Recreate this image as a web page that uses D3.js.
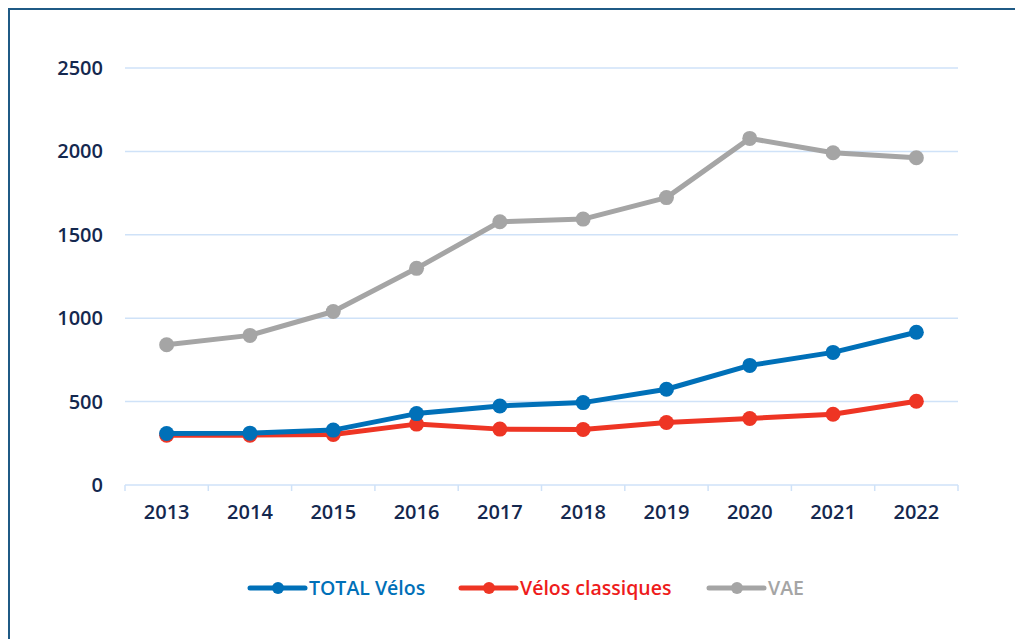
<!DOCTYPE html>
<html>
<head>
<meta charset="utf-8">
<script src="https://cdn.jsdelivr.net/npm/d3@7"></script>
<style>
  body { margin: 0; background: #fff; }
  svg { display: block; font-family: 'Open Sans', sans-serif; }
</style>
</head>
<body>
<div id="chart"></div>
<script>
// Data
const years = ['2013', '2014', '2015', '2016', '2017', '2018', '2019', '2020', '2021', '2022'];
const totalVelos = [309, 311, 329, 428, 474, 494, 574, 717, 795, 916];
const velosClassiques = [299, 299, 303, 365, 335, 333, 375, 399, 424, 502];
const vae = [841, 897, 1040, 1299, 1578, 1594, 1723, 2078, 1992, 1962];
const yTicks = [0, 500, 1000, 1500, 2000, 2500];

const series = [
  { name: 'TOTAL Vélos', values: totalVelos, color: '#0070b8', text: '#0070b8' },
  { name: 'Vélos classiques', values: velosClassiques, color: '#ee3524', text: '#ee1c1c' },
  { name: 'VAE', values: vae, color: '#a5a5a5', text: '#a5a5a5' },
];

// Sizes
const W = 1015;
const H = 639;
const plot = { left: 125, right: 958, top: 68, bottom: 485 };

const svg = d3.select('#chart')
  .append('svg')
  .attr('width', W)
  .attr('height', H);

// frame (only top and left edges show)
svg.append('path')
  .attr('d', `M9,${H + 5}V9H${W + 5}`)
  .attr('fill', 'none')
  .attr('stroke', '#1f5a85')
  .attr('stroke-width', 2);

const x = d3.scaleBand()
  .domain(years)
  .range([plot.left, plot.right]);

const y = d3.scaleLinear()
  .domain([0, 2500])
  .range([plot.bottom, plot.top]);

// gridlines
svg.append('g')
  .selectAll('line')
  .data(yTicks.filter((d) => d > 0))
  .join('line')
  .attr('x1', plot.left)
  .attr('x2', plot.right)
  .attr('y1', (d) => y(d))
  .attr('y2', (d) => y(d))
  .attr('stroke', '#cfe2f8')
  .attr('stroke-width', 1.5);

// y-axis labels
svg.append('g')
  .selectAll('text')
  .data(yTicks)
  .join('text')
  .attr('x', 103)
  .attr('y', (d) => y(d))
  .attr('dy', '0.35em')
  .attr('text-anchor', 'end')
  .attr('fill', '#14284f')
  .attr('font-size', 20)
  .attr('font-weight', 600)
  .text((d) => d);

// x-axis
const xAxis = svg.append('g')
  .attr('transform', `translate(0,${plot.bottom})`)
  .call(d3.axisBottom(x).tickSize(0).tickPadding(20));
xAxis.select('.domain')
  .attr('stroke', '#cfe2f8')
  .attr('stroke-width', 1.5)
  .attr('d', `M${plot.left},0H${plot.right}`);
xAxis.selectAll('text')
  .attr('fill', '#14284f')
  .attr('font-size', 20)
  .attr('font-weight', 600)
  .attr('font-family', "'Open Sans', sans-serif");

// category separators
svg.append('g')
  .selectAll('line')
  .data(years.concat(['end']))
  .join('line')
  .attr('x1', (d, i) => plot.left + i * x.step())
  .attr('x2', (d, i) => plot.left + i * x.step())
  .attr('y1', plot.bottom)
  .attr('y2', plot.bottom + 6)
  .attr('stroke', '#cfe2f8')
  .attr('stroke-width', 1.5);

// lines + markers, VAE first so it sits beneath
const line = d3.line()
  .x((d, i) => x(years[i]) + x.bandwidth() / 2)
  .y((d) => y(d));

series.slice().reverse().forEach((s) => {
  const g = svg.append('g');
  g.append('path')
    .datum(s.values)
    .attr('fill', 'none')
    .attr('stroke', s.color)
    .attr('stroke-width', 5)
    .attr('stroke-linejoin', 'round')
    .attr('d', line);
  g.selectAll('circle')
    .data(s.values)
    .join('circle')
    .attr('cx', (d, i) => x(years[i]) + x.bandwidth() / 2)
    .attr('cy', (d) => y(d))
    .attr('r', 7.5)
    .attr('fill', s.color);
});

// legend
const legendX = [250, 461, 709];
const legend = svg.append('g')
  .attr('transform', 'translate(0,588)');
series.forEach((s, i) => {
  const g = legend.append('g')
    .attr('transform', `translate(${legendX[i]},0)`);
  g.append('line')
    .attr('x1', 0)
    .attr('x2', 55)
    .attr('stroke', s.color)
    .attr('stroke-width', 5)
    .attr('stroke-linecap', 'round');
  g.append('circle')
    .attr('cx', 28)
    .attr('r', 6)
    .attr('fill', s.color);
  g.append('text')
    .attr('x', 59)
    .attr('dy', '0.35em')
    .attr('fill', s.text)
    .attr('font-size', 19.5)
    .attr('font-weight', 600)
    .text(s.name);
});
</script>
</body>
</html>
